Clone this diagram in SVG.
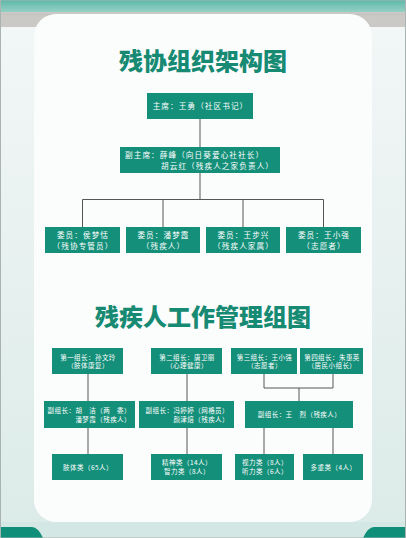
<svg xmlns="http://www.w3.org/2000/svg" width="406" height="538" viewBox="0 0 406 538">
<defs>
<linearGradient id="topg" x1="0" y1="0" x2="0" y2="1">
<stop offset="0" stop-color="#5db8a8"/>
<stop offset="1" stop-color="#9ed4c9"/>
</linearGradient>
<linearGradient id="side" x1="0" y1="0" x2="0" y2="1">
<stop offset="0" stop-color="#f3f7f7"/>
<stop offset="1" stop-color="#dbebe8"/>
</linearGradient>
</defs>
<style>
.box{fill:#14907a}
.t{font-family:"Noto Sans CJK SC","Noto Sans",sans-serif;fill:#ffffff}
.a{font-size:7.6px;letter-spacing:1.1px}
.b{font-size:6.5px;letter-spacing:0.45px}
.title{font-family:"Noto Sans CJK SC","Noto Sans",sans-serif;font-weight:900;font-size:24px;fill:#178a73;text-anchor:middle}
.ln{stroke:#555;stroke-width:1;fill:none}
</style>
<!-- background -->
<rect x="0" y="0" width="406" height="538" fill="url(#side)"/>
<rect x="0" y="0" width="406" height="14" fill="url(#topg)"/>
<rect x="0" y="12" width="406" height="15" fill="#cbc9c5"/>
<rect x="0" y="14" width="406" height="1" fill="#c3c1bd"/>
<rect x="0" y="522" width="406" height="16" fill="#d3e8e4"/>
<path d="M0 527 H32 Q38 527 43 538 H0 Z" fill="#0f8e79"/>
<path d="M406 527 H374 Q368 527 363 538 H406 Z" fill="#0f8e79"/>
<rect x="34" y="14" width="338" height="508" rx="22" fill="#fbfdfd"/>
<rect x="0.5" y="0" width="405" height="538" fill="none" stroke="#a9b4b2" stroke-width="1"/>

<text class="title" x="203" y="70">残协组织架构图</text>
<text class="title" x="203" y="326">残疾人工作管理组图</text>

<g id="connectors">
<path class="ln" d="M200 119 V147"/>
<path class="ln" d="M200 173 V199.5 M82.5 199.5 H323.5 M82.5 199.5 V227 M163 199.5 V227 M243 199.5 V227 M323.5 199.5 V227"/>
<path class="ln" d="M88 374 V401 M187 374 V401 M264 374 V388 H333 V374 M299 388 V401"/>
<path class="ln" d="M88 428 V454 M187 428 V454 M264 428 V454 M333 428 V454"/>
</g>

<g id="chair">
<rect class="box" x="147" y="93" width="106" height="26"/>
<text class="t a" x="200.5" y="109" text-anchor="middle">主席：王勇（社区书记）</text>
</g>
<g id="vice-chair">
<rect class="box" x="120" y="147" width="160" height="26"/>
<text class="t a" x="125" y="158">副主席：薛峰（向日葵爱心社社长）</text>
<text class="t a" x="161" y="168.5">胡云红（残疾人之家负责人）</text>
</g>
<g id="member1">
<rect class="box" x="45" y="227" width="75" height="26"/>
<text class="t a" x="83" y="238" text-anchor="middle">委员：侯梦恬</text>
<text class="t a" x="83" y="248.5" text-anchor="middle">（残协专管员）</text>
</g>
<g id="member2">
<rect class="box" x="126" y="227" width="74" height="26"/>
<text class="t a" x="163.5" y="238" text-anchor="middle">委员：潘梦霞</text>
<text class="t a" x="163.5" y="248.5" text-anchor="middle">（残疾人）</text>
</g>
<g id="member3">
<rect class="box" x="206" y="227" width="74" height="26"/>
<text class="t a" x="243.5" y="238" text-anchor="middle">委员：王步兴</text>
<text class="t a" x="243.5" y="248.5" text-anchor="middle">（残疾人家属）</text>
</g>
<g id="member4">
<rect class="box" x="286" y="227" width="75" height="26"/>
<text class="t a" x="324" y="238" text-anchor="middle">委员：王小强</text>
<text class="t a" x="324" y="248.5" text-anchor="middle">（志愿者）</text>
</g>

<g id="leader1">
<rect class="box" x="52" y="348" width="71" height="26"/>
<text class="t b" x="88" y="359.5" text-anchor="middle">第一组长：孙文玲</text>
<text class="t b" x="88" y="368" text-anchor="middle">（肢体康复）</text>
</g>
<g id="leader2">
<rect class="box" x="151" y="348" width="71" height="26"/>
<text class="t b" x="187" y="359.5" text-anchor="middle">第二组长：唐卫丽</text>
<text class="t b" x="187" y="368" text-anchor="middle">（心理健康）</text>
</g>
<g id="leader3">
<rect class="box" x="231" y="348" width="66" height="26"/>
<text class="t b" x="264.5" y="359.5" text-anchor="middle">第三组长：王小强</text>
<text class="t b" x="264.5" y="368" text-anchor="middle">（志愿者）</text>
</g>
<g id="leader4">
<rect class="box" x="300" y="348" width="63" height="26"/>
<text class="t b" x="332" y="359.5" text-anchor="middle">第四组长：朱惠英</text>
<text class="t b" x="332" y="368" text-anchor="middle">（居民小组长）</text>
</g>

<g id="vice1">
<rect class="box" x="44" y="401" width="91" height="27"/>
<text class="t b" x="131" y="412.5" text-anchor="end">副组长：胡　洁（两　委）</text>
<text class="t b" x="131" y="421.5" text-anchor="end">潘梦霞（残疾人）</text>
</g>
<g id="vice2">
<rect class="box" x="139" y="401" width="95" height="27"/>
<text class="t b" x="229" y="412.5" text-anchor="end">副组长：冯婷婷（网格员）</text>
<text class="t b" x="229" y="421.5" text-anchor="end">颜津焙（残疾人）</text>
</g>
<g id="vice3">
<rect class="box" x="245" y="401" width="108" height="27"/>
<text class="t b" x="299.5" y="417" text-anchor="middle">副组长：王　烈（残疾人）</text>
</g>

<g id="cat1">
<rect class="box" x="52" y="454" width="71" height="26"/>
<text class="t b" x="88" y="469.5" text-anchor="middle">肢体类（65人）</text>
</g>
<g id="cat2">
<rect class="box" x="151" y="454" width="71" height="26"/>
<text class="t b" x="187" y="465" text-anchor="middle">精神类（14人）</text>
<text class="t b" x="187" y="474" text-anchor="middle">智力类（8人）</text>
</g>
<g id="cat3">
<rect class="box" x="235" y="454" width="59" height="26"/>
<text class="t b" x="265" y="465" text-anchor="middle">视力类（8人）</text>
<text class="t b" x="265" y="474" text-anchor="middle">听力类（6人）</text>
</g>
<g id="cat4">
<rect class="box" x="303" y="454" width="60" height="26"/>
<text class="t b" x="333.5" y="469.5" text-anchor="middle">多重类（4人）</text>
</g>
</svg>
